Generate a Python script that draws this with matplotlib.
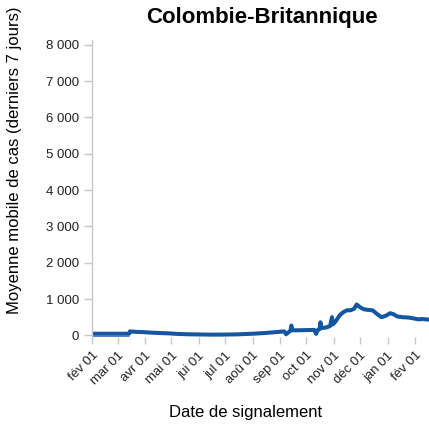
"""Moyenne mobile des cas en Colombie-Britannique (style Vega)."""

import datetime as dt

import matplotlib

matplotlib.use("Agg", force=True)
import matplotlib.pyplot as plt

TITLE = "Colombie-Britannique"
X_LABEL = "Date de signalement"
Y_LABEL = "Moyenne mobile de cas (derniers 7 jours)"

MONTH_LABELS = ("jan", "fév", "mar", "avr", "mai", "jui",
                "jul", "aoû", "sep", "oct", "nov", "déc")
Y_TICKS = [0, 1000, 2000, 3000, 4000, 5000, 6000, 7000, 8000]

# série principale (moyenne mobile 7 jours)
DATES = [
    "2020-02-01", "2020-03-14", "2020-03-15", "2020-03-22", "2020-03-30",
    "2020-04-08", "2020-04-18", "2020-04-28", "2020-05-08", "2020-05-20",
    "2020-06-01", "2020-06-15", "2020-07-01", "2020-07-15", "2020-08-01",
    "2020-08-15", "2020-08-28", "2020-09-06", "2020-09-08", "2020-09-13",
    "2020-09-14", "2020-09-15", "2020-09-22", "2020-10-01", "2020-10-10",
    "2020-10-12", "2020-10-14", "2020-10-16", "2020-10-17", "2020-10-18",
    "2020-10-24", "2020-10-28", "2020-10-30", "2020-10-31", "2020-11-03",
    "2020-11-08", "2020-11-12", "2020-11-16", "2020-11-20", "2020-11-24",
    "2020-11-27", "2020-12-01", "2020-12-05", "2020-12-10", "2020-12-15",
    "2020-12-20", "2020-12-25", "2020-12-30", "2021-01-04", "2021-01-08",
    "2021-01-12", "2021-01-18", "2021-01-25", "2021-01-30", "2021-02-05",
    "2021-02-10", "2021-02-18",
]
CASES = [
    45, 45, 110, 95, 90,
    75, 65, 55, 40, 30,
    25, 20, 22, 28, 45,
    65, 90, 110, 30, 130,
    270, 140, 140, 145, 150,
    40, 150, 170, 360, 200,
    220, 260, 500, 300, 380,
    560, 640, 690, 690, 730,
    850, 770, 720, 700, 690,
    590, 500, 540, 610, 580,
    520, 500, 490, 470, 440,
    450, 430,
]

# série secondaire (trait fin au début)
DATES_2 = ["2020-02-01", "2020-03-14"]
CASES_2 = [-25, -25]


def to_dates(values):
    return [dt.datetime.strptime(v, "%Y-%m-%d") for v in values]


def month_ticks(start, count):
    ticks = []
    year, month = start.year, start.month
    for _ in range(count):
        ticks.append(dt.datetime(year, month, 1))
        month += 1
        if month > 12:
            month, year = 1, year + 1
    return ticks


def main():
    plt.rcParams["font.family"] = ["Liberation Sans", "DejaVu Sans"]

    fig = plt.figure(figsize=(4.29, 4.30), dpi=100)
    ax = fig.add_axes([92 / 429, 93 / 430, 337 / 429, 297 / 430])

    ax.plot(to_dates(DATES_2), CASES_2, color="#4f86c6", linewidth=1.0,
            solid_capstyle="butt")
    ax.plot(to_dates(DATES), CASES, color="#1456a0", linewidth=2.9,
            solid_joinstyle="round")

    ax.set_xlim(dt.datetime(2020, 2, 1), dt.datetime(2021, 2, 17))
    ax.set_ylim(-45, 8130)
    ax.set_yticks(Y_TICKS, [f"{v:,}".replace(",", " ") for v in Y_TICKS])

    ticks = month_ticks(dt.datetime(2020, 2, 1), 13)
    labels = [f"{MONTH_LABELS[t.month - 1]} 01" for t in ticks]
    ax.set_xticks(ticks, labels, rotation=45, ha="right", va="top",
                  rotation_mode="anchor")

    for side in ("top", "right", "bottom"):
        ax.spines[side].set_visible(False)
    ax.spines["left"].set_color("#c8c8c8")
    ax.spines["left"].set_linewidth(1.0)

    ax.tick_params(axis="y", length=6, width=1, color="#c8c8c8",
                   labelsize=9.5, pad=3.5, labelcolor="#222222")
    ax.tick_params(axis="x", length=5, width=1, color="#c8c8c8",
                   labelsize=9.5, pad=4, labelcolor="#222222")

    fig.text(262 / 429, 1 - 18 / 430, TITLE, fontsize=16, fontweight="bold",
             ha="center", va="center")
    fig.text(246 / 429, 1 - 412 / 430, X_LABEL, fontsize=12,
             ha="center", va="center")
    fig.text(15 / 429, 1 - 160 / 430, Y_LABEL, fontsize=12, rotation=90,
             ha="center", va="center")

    fig.savefig("out.png", dpi=100)
    plt.close(fig)


if __name__ == "__main__":
    main()
